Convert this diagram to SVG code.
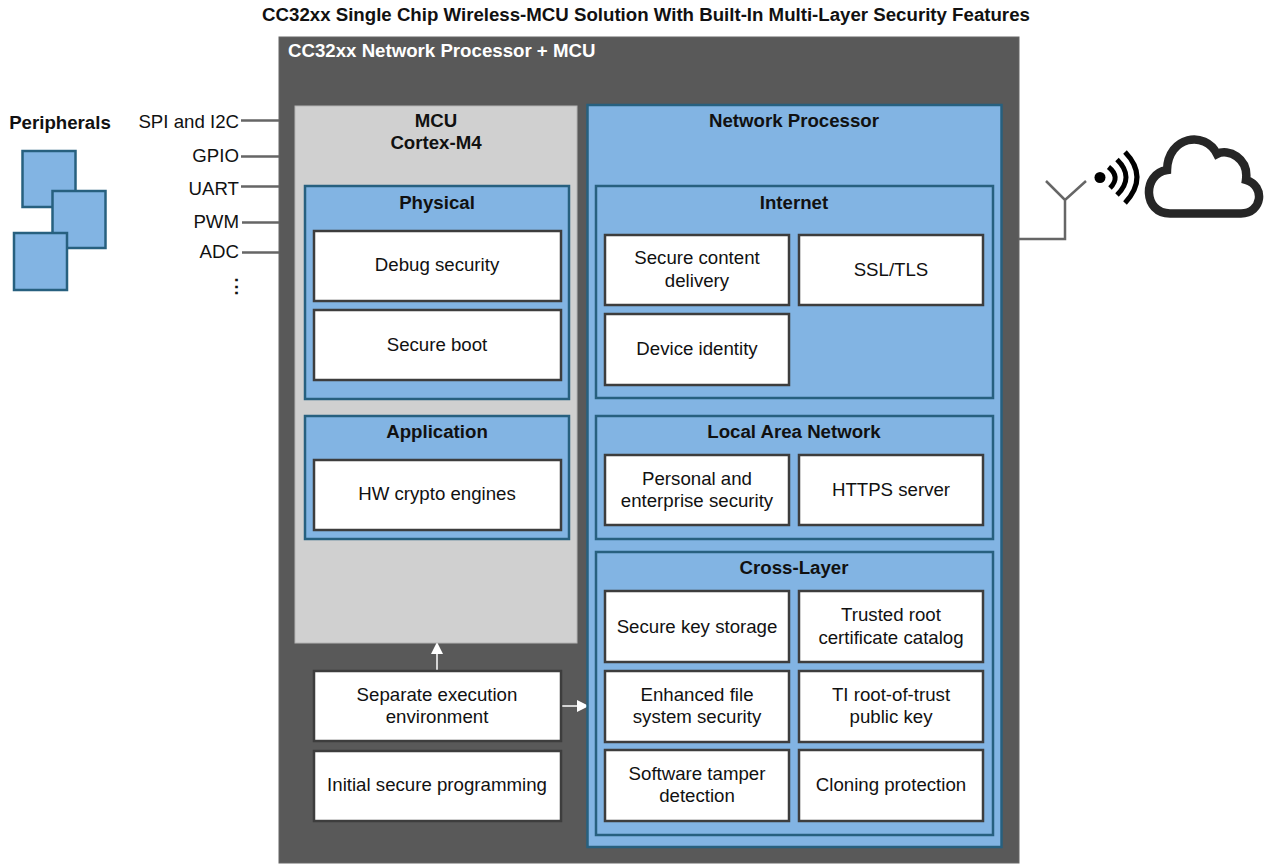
<svg xmlns="http://www.w3.org/2000/svg" width="1264" height="865" viewBox="0 0 1264 865">
<style>
text{font-family:"Liberation Sans",Arial,sans-serif;font-size:18.67px;fill:#111;text-anchor:middle}
.b{font-weight:bold}
.e{text-anchor:end}
.blue{fill:#82b4e3;stroke:#27607f;stroke-width:2.5}
.box{fill:#fff;stroke:#3d3d3d;stroke-width:2.5}
.ln{fill:none;stroke:#666;stroke-width:2.5}
.w{stroke:#fff;stroke-width:1.5;fill:none}
</style>
<defs><marker id="arr" markerUnits="userSpaceOnUse" markerWidth="12" markerHeight="12" refX="11" refY="6" orient="auto"><path d="M0 0L12 6L0 12Z" fill="#fff"/></marker></defs>
<rect width="1264" height="865" fill="#fff"/>
<text class="b" x="646" y="21">CC32xx Single Chip Wireless-MCU Solution With Built-In Multi-Layer Security Features</text>
<g id="chip"><rect x="279" y="37" width="740" height="826" fill="#595959" stroke="#666" stroke-width="1"/>
<text class="b" x="288" y="57" style="text-anchor:start;fill:#fff">CC32xx Network Processor + MCU</text></g>
<g id="peripherals">
<text class="b" x="60" y="129">Peripherals</text>
<rect class="blue" x="22.500" y="151" width="53" height="56"/>
<rect class="blue" x="52.500" y="191" width="53" height="57"/>
<rect class="blue" x="14" y="233" width="53" height="57"/>
</g>
<g id="connectors">
<path class="ln" d="M241 120.500H279M241 156.500H279M241 186.500H279M242 222.500H279M242 252.500H279"/>
<path class="ln" d="M1019 239H1065V200M1046 181L1065 200L1086 181"/>
<path class="w" d="M437 671V643" marker-end="url(#arr)"/>
<path class="w" d="M562 706H588" marker-end="url(#arr)"/>
</g>
<g id="io-labels">
<text class="e" x="239" y="128">SPI and I2C</text>
<text class="e" x="239" y="162">GPIO</text>
<text class="e" x="239" y="195">UART</text>
<text class="e" x="239" y="228">PWM</text>
<text class="e" x="239" y="258">ADC</text>
<text x="236" y="293" class="b">⋮</text>
</g>
<g id="wireless">
<circle cx="1100" cy="177.500" r="5.500" fill="#000"/>
<path d="M1108.500 167Q1121 177 1110 188M1117 159.500Q1135 177 1117 195M1125 152Q1149 177 1125 203" fill="none" stroke="#000" stroke-width="5"/>
</g>
<g id="cloud">
<path d="M1170 213.500H1241C1262 213.500 1266 186 1246 180C1249 158 1228 148 1217 154C1205 130 1168 136 1167 170C1142 174 1143 213.500 1170 213.500Z" fill="#fff" stroke="#262626" stroke-width="8.500"/>
</g>
<g id="mcu"><rect x="295" y="106" width="282" height="537" fill="#d0d0d0" stroke="#b5b5b5"/>
<text class="b" x="436" y="127">MCU</text><text class="b" x="436" y="149">Cortex-M4</text></g>
<g id="physical"><rect class="blue" x="305" y="186" width="264" height="213"/><text class="b" x="437" y="209">Physical</text></g>
<g id="debug"><rect class="box" x="314" y="231" width="247" height="70"/><text x="437" y="271">Debug security</text></g>
<g id="boot"><rect class="box" x="314" y="310" width="247" height="70"/><text x="437" y="351">Secure boot</text></g>
<g id="application"><rect class="blue" x="305" y="416" width="264" height="123"/><text class="b" x="437" y="438">Application</text></g>
<g id="crypto"><rect class="box" x="314" y="460" width="247" height="70"/><text x="437" y="500">HW crypto engines</text></g>
<g id="separate"><rect class="box" x="314" y="671" width="247" height="70"/><text x="437" y="701">Separate execution</text><text x="437" y="723">environment</text></g>
<g id="initial"><rect class="box" x="314" y="751" width="247" height="70"/><text x="437" y="791">Initial secure programming</text></g>
<g id="network"><rect class="blue" x="587.500" y="105" width="414" height="742"/><text class="b" x="794" y="127">Network Processor</text></g>
<g id="internet"><rect class="blue" x="596" y="186" width="397" height="212"/><text class="b" x="794" y="209">Internet</text></g>
<g id="content"><rect class="box" x="605" y="235" width="184" height="70"/><text x="697" y="264">Secure content</text><text x="697" y="287">delivery</text></g>
<g id="ssl"><rect class="box" x="799" y="235" width="184" height="70"/><text x="891" y="276">SSL/TLS</text></g>
<g id="identity"><rect class="box" x="605" y="314" width="184" height="71"/><text x="697" y="355">Device identity</text></g>
<g id="lan"><rect class="blue" x="596" y="416" width="397" height="123"/><text class="b" x="794" y="438">Local Area Network</text></g>
<g id="personal"><rect class="box" x="605" y="455" width="184" height="70"/><text x="697" y="485">Personal and</text><text x="697" y="507">enterprise security</text></g>
<g id="https"><rect class="box" x="799" y="455" width="184" height="70"/><text x="891" y="496">HTTPS server</text></g>
<g id="cross"><rect class="blue" x="596" y="552" width="397" height="283"/><text class="b" x="794" y="574">Cross-Layer</text></g>
<g id="key"><rect class="box" x="605" y="591" width="184" height="71"/><text x="697" y="633">Secure key storage</text></g>
<g id="trusted"><rect class="box" x="799" y="591" width="184" height="71"/><text x="891" y="621">Trusted root</text><text x="891" y="644">certificate catalog</text></g>
<g id="filesys"><rect class="box" x="605" y="671" width="184" height="71"/><text x="697" y="701">Enhanced file</text><text x="697" y="723">system security</text></g>
<g id="rootkey"><rect class="box" x="799" y="671" width="184" height="71"/><text x="891" y="701">TI root-of-trust</text><text x="891" y="723">public key</text></g>
<g id="tamper"><rect class="box" x="605" y="750" width="184" height="71"/><text x="697" y="780">Software tamper</text><text x="697" y="802">detection</text></g>
<g id="cloning"><rect class="box" x="799" y="750" width="184" height="71"/><text x="891" y="791">Cloning protection</text></g>
</svg>
